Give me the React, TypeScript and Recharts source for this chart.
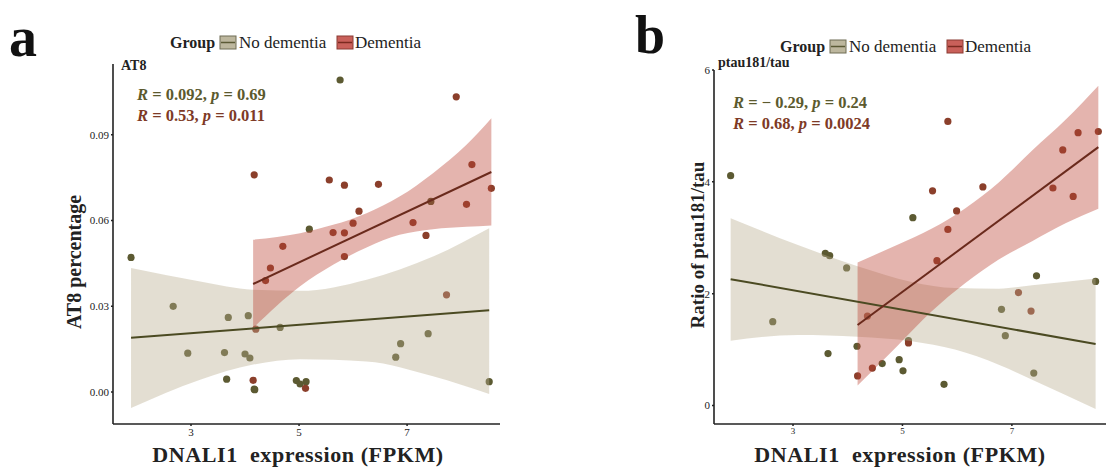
import React from 'react';
import { ComposedChart, Scatter, Line, Area, XAxis, YAxis } from 'recharts';

const FONT = "'Liberation Serif', 'Times New Roman', serif";

const xTicks = [3, 5, 7];
const at8Ticks = [0, 0.03, 0.06, 0.09];
const ratioTicks = [0, 2, 4, 6];

const OLIVE = '#5c5a32';
const BROWN = '#8b3f2b';

// ---- panel a : AT8 ----
const at8NoDementia = [
  { x: 1.89, y: 0.0471 }, { x: 2.67, y: 0.03 }, { x: 2.94, y: 0.0136 }, { x: 3.69, y: 0.0261 },
  { x: 3.62, y: 0.0138 }, { x: 3.66, y: 0.0045 }, { x: 4.06, y: 0.0267 }, { x: 4.0, y: 0.0133 },
  { x: 4.09, y: 0.0119 }, { x: 4.17, y: 0.001 }, { x: 4.18, y: 0.0008 }, { x: 4.65, y: 0.0226 },
  { x: 5.19, y: 0.057 }, { x: 4.95, y: 0.004 }, { x: 5.02, y: 0.0028 }, { x: 5.13, y: 0.0036 },
  { x: 5.76, y: 0.1092 }, { x: 6.79, y: 0.0122 }, { x: 6.88, y: 0.0169 }, { x: 7.39, y: 0.0204 },
  { x: 7.44, y: 0.0667 }, { x: 8.52, y: 0.0036 },
];
const at8Dementia = [
  { x: 4.17, y: 0.076 }, { x: 4.15, y: 0.0041 }, { x: 4.2, y: 0.022 }, { x: 4.38, y: 0.039 },
  { x: 4.47, y: 0.0434 }, { x: 4.7, y: 0.051 }, { x: 5.12, y: 0.0013 }, { x: 5.56, y: 0.0742 },
  { x: 5.63, y: 0.0558 }, { x: 5.84, y: 0.0724 }, { x: 5.84, y: 0.0557 }, { x: 5.84, y: 0.0474 },
  { x: 6.0, y: 0.0591 }, { x: 6.11, y: 0.0633 }, { x: 6.47, y: 0.0727 }, { x: 7.11, y: 0.0593 },
  { x: 7.35, y: 0.0548 }, { x: 7.73, y: 0.034 }, { x: 7.91, y: 0.1033 }, { x: 8.1, y: 0.0657 },
  { x: 8.2, y: 0.0796 }, { x: 8.56, y: 0.0713 },
];
const at8FitNoDementia = [{ x: 1.89, y: 0.019 }, { x: 8.52, y: 0.0286 }];
const at8FitDementia = [{ x: 4.15, y: 0.0378 }, { x: 8.56, y: 0.077 }];
const at8BandNoDementia = [
  { x: 1.89, band: [-0.0056, 0.0434] }, { x: 3.17, band: [0.0043, 0.0387] },
  { x: 4.15, band: [0.0096, 0.0358] }, { x: 5.02, band: [0.0115, 0.0354] },
  { x: 6.25, band: [0.0107, 0.0393] }, { x: 7.48, band: [0.0055, 0.0474] },
  { x: 8.52, band: [-0.0007, 0.0573] },
];
const at8BandDementia = [
  { x: 4.15, band: [0.0224, 0.0533] }, { x: 5.02, band: [0.037, 0.0556] },
  { x: 5.63, band: [0.0445, 0.0585] }, { x: 6.25, band: [0.0506, 0.0626] },
  { x: 6.86, band: [0.055, 0.0684] }, { x: 7.48, band: [0.057, 0.0766] },
  { x: 8.1, band: [0.0578, 0.0865] }, { x: 8.56, band: [0.0583, 0.0958] },
];

// ---- panel b : ptau181/tau ----
const ratioNoDementia = [
  { x: 1.86, y: 4.11 }, { x: 2.63, y: 1.5 }, { x: 3.59, y: 2.72 }, { x: 3.67, y: 2.68 },
  { x: 3.64, y: 0.93 }, { x: 3.98, y: 2.46 }, { x: 4.17, y: 1.06 }, { x: 4.63, y: 0.75 },
  { x: 4.94, y: 0.82 }, { x: 5.01, y: 0.62 }, { x: 5.11, y: 1.16 }, { x: 5.19, y: 3.36 },
  { x: 5.76, y: 0.38 }, { x: 6.81, y: 1.72 }, { x: 6.88, y: 1.25 }, { x: 7.4, y: 0.58 },
  { x: 7.45, y: 2.32 }, { x: 8.53, y: 2.22 },
];
const ratioDementia = [
  { x: 4.18, y: 0.53 }, { x: 4.36, y: 1.6 }, { x: 4.45, y: 0.67 }, { x: 5.11, y: 1.12 },
  { x: 5.55, y: 3.84 }, { x: 5.63, y: 2.59 }, { x: 5.83, y: 5.08 }, { x: 5.83, y: 3.15 },
  { x: 5.99, y: 3.48 }, { x: 6.47, y: 3.91 }, { x: 7.12, y: 2.02 }, { x: 7.35, y: 1.69 },
  { x: 7.75, y: 3.89 }, { x: 7.93, y: 4.57 }, { x: 8.12, y: 3.74 }, { x: 8.21, y: 4.88 },
  { x: 8.58, y: 4.9 },
];
const ratioFitNoDementia = [{ x: 1.86, y: 2.26 }, { x: 8.53, y: 1.1 }];
const ratioFitDementia = [{ x: 4.18, y: 1.44 }, { x: 8.58, y: 4.62 }];
const ratioBandNoDementia = [
  { x: 1.86, band: [1.16, 3.35] }, { x: 3.09, band: [1.26, 2.87] },
  { x: 4.18, band: [1.23, 2.49] }, { x: 5.17, band: [1.15, 2.21] },
  { x: 5.96, band: [1.0, 2.1] }, { x: 6.76, band: [0.73, 2.09] },
  { x: 7.37, band: [0.46, 2.15] }, { x: 8.53, band: [-0.06, 2.27] },
];
const ratioBandDementia = [
  { x: 4.18, band: [0.36, 2.56] }, { x: 4.92, band: [1.08, 2.88] },
  { x: 5.53, band: [1.68, 3.16] }, { x: 6.15, band: [2.19, 3.53] },
  { x: 6.76, band: [2.61, 3.99] }, { x: 7.37, band: [2.94, 4.56] },
  { x: 7.98, band: [3.26, 5.11] }, { x: 8.58, band: [3.52, 5.72] },
];

const dot = (color: string) => (p: any) => <circle cx={p.cx} cy={p.cy} r={3.6} fill={color} />;

function Panel(props: any) {
  const { left, width, margin, yDomain, yTicks, yFmt, noDem, dem, fitNoDem, fitDem, bandNoDem, bandDem, xTickSize } = props;
  const axisStyle = { stroke: '#222', strokeWidth: 1.6 };
  return (
    <div style={{ position: 'absolute', left, top: 0 }}>
      <ComposedChart width={width} height={468} margin={margin}>
        <XAxis
          type="number"
          dataKey="x"
          domain={[1.556, 8.72]}
          ticks={xTicks}
          allowDataOverflow
          height={30}
          axisLine={axisStyle}
          tickLine={{ stroke: '#222', strokeWidth: 1.5 }}
          tickSize={2}
          tickMargin={2}
          tick={{ fontFamily: FONT, fontSize: xTickSize, fill: '#222' }}
        />
        <YAxis
          type="number"
          domain={yDomain}
          ticks={yTicks}
          allowDataOverflow
          width={40}
          axisLine={axisStyle}
          tickLine={{ stroke: '#222', strokeWidth: 1.5 }}
          tickSize={2}
          tickMargin={2}
          tickFormatter={yFmt}
          tick={{ fontFamily: FONT, fontSize: 11, fill: '#222' }}
        />
        <Scatter data={noDem} dataKey="y" isAnimationActive={false} shape={dot(OLIVE)} />
        <Scatter data={dem} dataKey="y" isAnimationActive={false} shape={dot(BROWN)} />
        <Area data={bandNoDem} dataKey="band" type="monotone" stroke="none" fill="#b9ac8e" fillOpacity={0.4} isAnimationActive={false} zIndex={650} />
        <Area data={bandDem} dataKey="band" type="monotone" stroke="none" fill="#bb4435" fillOpacity={0.4} isAnimationActive={false} zIndex={650} />
        <Line data={fitNoDem} dataKey="y" stroke="#4b4a22" strokeWidth={2} dot={false} isAnimationActive={false} zIndex={700} />
        <Line data={fitDem} dataKey="y" stroke="#6a2a1c" strokeWidth={2} dot={false} isAnimationActive={false} zIndex={700} />
      </ComposedChart>
    </div>
  );
}

function LegendRow({ x, y }: { x: number; y: number }) {
  return (
    <g fontFamily={FONT}>
      <text x={x} y={y} fontSize={16} fontWeight="bold" fill="#222">Group</text>
      <rect x={x + 50} y={y - 12} width={16} height={13} fill="#bdb79e" stroke="#6f6c55" strokeWidth={1} />
      <line x1={x + 51} x2={x + 65} y1={y - 5.5} y2={y - 5.5} stroke="#5b5a35" strokeWidth={1.5} />
      <text x={x + 69} y={y} fontSize={17} fill="#222">No dementia</text>
      <rect x={x + 167} y={y - 12} width={16} height={13} fill="#c9605a" stroke="#8a3a32" strokeWidth={1} />
      <line x1={x + 168} x2={x + 182} y1={y - 5.5} y2={y - 5.5} stroke="#7a2a20" strokeWidth={1.5} />
      <text x={x + 185} y={y} fontSize={17} fill="#222">Dementia</text>
    </g>
  );
}

function Stat({ x, y, r, p, color }: { x: number; y: number; r: string; p: string; color: string }) {
  return (
    <text x={x} y={y} fontFamily={FONT} fontSize={16.5} fontWeight="bold" fill={color}>
      <tspan fontStyle="italic">R</tspan> = {r}, <tspan fontStyle="italic">p</tspan> = {p}
    </text>
  );
}

export default function App() {
  return (
    <div style={{ position: 'absolute', left: 0, top: 0, width: 1107, height: 468, background: '#fff', overflow: 'hidden' }}>
      <Panel
        left={0}
        width={520}
        margin={{ top: 64, right: 20, bottom: 14, left: 73 }}
        yDomain={[-0.0112, 0.1148]}
        yTicks={at8Ticks}
        yFmt={(v: number) => v.toFixed(2)}
        noDem={at8NoDementia}
        dem={at8Dementia}
        fitNoDem={at8FitNoDementia}
        fitDem={at8FitDementia}
        bandNoDem={at8BandNoDementia}
        bandDem={at8BandDementia}
        xTickSize={11}
      />
      <Panel
        left={640}
        width={467}
        margin={{ top: 70, right: 1, bottom: 14, left: 34 }}
        yDomain={[-0.33, 6]}
        yTicks={ratioTicks}
        yFmt={(v: number) => String(v)}
        noDem={ratioNoDementia}
        dem={ratioDementia}
        fitNoDem={ratioFitNoDementia}
        fitDem={ratioFitDementia}
        bandNoDem={ratioBandNoDementia}
        bandDem={ratioBandDementia}
        xTickSize={9}
      />
      <svg width={1107} height={468} style={{ position: 'absolute', left: 0, top: 0, pointerEvents: 'none' }}>
        <text x={9} y={56} fontFamily={FONT} fontSize={56} fontWeight="bold" fill="#111">a</text>
        <text x={635} y={53} fontFamily={FONT} fontSize={54} fontWeight="bold" fill="#111">b</text>
        <LegendRow x={170} y={48} />
        <LegendRow x={780} y={52} />
        <text x={121} y={70} fontFamily={FONT} fontSize={14} fontWeight="bold" fill="#222">AT8</text>
        <text x={718} y={67} fontFamily={FONT} fontSize={14} fontWeight="bold" fill="#222">ptau181/tau</text>
        <Stat x={137} y={100} r="0.092" p="0.69" color="#5c5a2e" />
        <Stat x={137} y={121} r="0.53" p="0.011" color="#7e3a26" />
        <Stat x={733} y={108} r="− 0.29" p="0.24" color="#5c5a2e" />
        <Stat x={733} y={129} r="0.68" p="0.0024" color="#7e3a26" />
        <text transform="translate(81,262) rotate(-90)" textAnchor="middle" fontFamily={FONT} fontSize={20} fontWeight="bold" fill="#222">AT8 percentage</text>
        <text transform="translate(704,245) rotate(-90)" textAnchor="middle" fontFamily={FONT} fontSize={19} fontWeight="bold" fill="#222">Ratio of ptau181/tau</text>
        <text x={298} y={462} textAnchor="middle" fontFamily={FONT} fontSize={22} fontWeight="bold" letterSpacing={0.6} fill="#222">{'DNALI1\u00a0 expression (FPKM)'}</text>
        <text x={900} y={462} textAnchor="middle" fontFamily={FONT} fontSize={22} fontWeight="bold" letterSpacing={0.6} fill="#222">{'DNALI1\u00a0 expression (FPKM)'}</text>
      </svg>
    </div>
  );
}
